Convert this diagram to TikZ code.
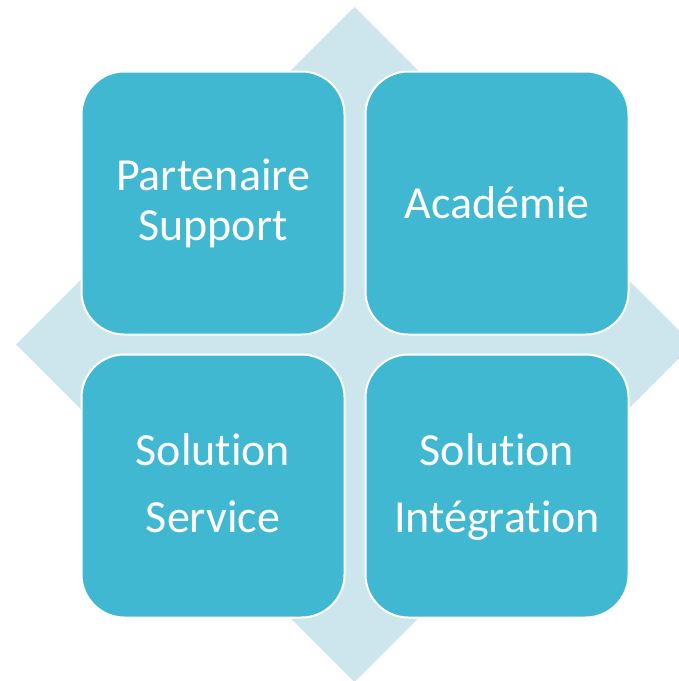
\documentclass[tikz,border=0pt]{standalone}
\usepackage{fontspec}
\setmainfont[Ligatures=NoCommon]{Carlito}
\definecolor{tilefill}{RGB}{65,184,210}
\definecolor{diamondfill}{RGB}{205,230,238}

\begin{document}
\begin{tikzpicture}[x=1pt,y=-1pt,
    tile/.style={draw=white,line width=2pt,fill=tilefill,rounded corners=43pt,
        minimum width=263pt,minimum height=263pt,text=white,align=center,inner sep=0pt},
    tight/.style={font=\fontsize{46}{50}\selectfont},
    loose/.style={font=\fontsize{46}{67}\selectfont,text depth=5pt}]
            \useasboundingbox (0,0) rectangle (679,681);
            \clip (0,0) rectangle (679,681);
            \fill[diamondfill] (354.5,7) -- (693,344.5) -- (354.5,682) -- (16,344.5) -- cycle;

            \node[tile,tight] (Partenaire Support) at (213,203) {Partenaire\\Support};
            \node[tile,tight] (Academie) at (497,203) {Académie};

            \node[tile,loose] (Solution Service) at (213,486) {Solution\\Service};
            \node[tile,loose] (Solution Integration) at (497,486) {Solution\\Intégration};
        \end{tikzpicture}
\end{document}
